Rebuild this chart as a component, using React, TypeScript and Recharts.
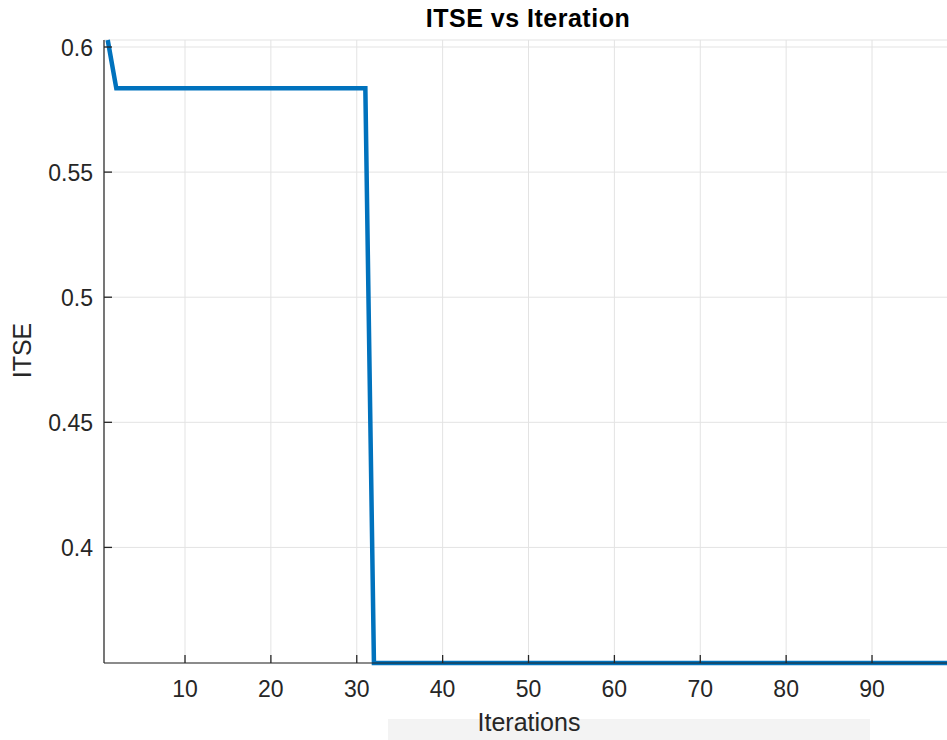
import { LineChart, Line, XAxis, YAxis, CartesianGrid } from "recharts"

// best ITSE value per iteration (iterations 1..99)
const itse = [
  0.6028, 0.5835, 0.5835, 0.5835, 0.5835, 0.5835, 0.5835, 0.5835, 0.5835, 0.5835,
  0.5835, 0.5835, 0.5835, 0.5835, 0.5835, 0.5835, 0.5835, 0.5835, 0.5835, 0.5835,
  0.5835, 0.5835, 0.5835, 0.5835, 0.5835, 0.5835, 0.5835, 0.5835, 0.5835, 0.5835,
  0.5835, 0.3538, 0.3538, 0.3538, 0.3538, 0.3538, 0.3538, 0.3538, 0.3538, 0.3538,
  0.3538, 0.3538, 0.3538, 0.3538, 0.3538, 0.3538, 0.3538, 0.3538, 0.3538, 0.3538,
  0.3538, 0.3538, 0.3538, 0.3538, 0.3538, 0.3538, 0.3538, 0.3538, 0.3538, 0.3538,
  0.3538, 0.3538, 0.3538, 0.3538, 0.3538, 0.3538, 0.3538, 0.3538, 0.3538, 0.3538,
  0.3538, 0.3538, 0.3538, 0.3538, 0.3538, 0.3538, 0.3538, 0.3538, 0.3538, 0.3538,
  0.3538, 0.3538, 0.3538, 0.3538, 0.3538, 0.3538, 0.3538, 0.3538, 0.3538, 0.3538,
  0.3538, 0.3538, 0.3538, 0.3538, 0.3538, 0.3538, 0.3538, 0.3538, 0.3538,
]

const xTicks = [10, 20, 30, 40, 50, 60, 70, 80, 90]
const yTicks = [0.4, 0.45, 0.5, 0.55, 0.6]

const data = itse.map((v, i) => ({ iteration: i + 1, itse: v }))

const AXIS = "#262626"
const FONT = '"Liberation Sans", Arial, Helvetica, sans-serif'
const TICK_LEN = 8
const X_DOMAIN = [0.567, 99.43]
const Y_DOMAIN = [0.3538, 0.6028]

function BottomTick(props: any) {
  const { x, y, payload } = props
  return (
    <g>
      <line x1={x} y1={y} x2={x} y2={y - TICK_LEN} stroke={AXIS} strokeWidth={1.3} />
      <text x={x} y={y + 34} textAnchor="middle" fontSize={23} fill={AXIS} fontFamily={FONT}>
        {payload.value}
      </text>
    </g>
  )
}

function TopTick(props: any) {
  const { x, y } = props
  return <line x1={x} y1={y} x2={x} y2={y + TICK_LEN} stroke={AXIS} strokeWidth={1.3} />
}

function LeftTick(props: any) {
  const { x, y, payload } = props
  return (
    <g>
      <line x1={x} y1={y} x2={x + TICK_LEN} y2={y} stroke={AXIS} strokeWidth={1.3} />
      <text x={x - 11} y={y + 8.5} textAnchor="end" fontSize={23} fill={AXIS} fontFamily={FONT}>
        {payload.value}
      </text>
    </g>
  )
}

function RightTick(props: any) {
  const { x, y } = props
  return <line x1={x} y1={y} x2={x - TICK_LEN} y2={y} stroke={AXIS} strokeWidth={1.3} />
}

export default function App() {
  return (
    <div style={{ position: "absolute", left: 0, top: 0, width: 947, height: 740, background: "#fff", overflow: "hidden" }}>
      <div style={{ position: "absolute", left: 388, top: 719, width: 482, height: 21, background: "#f3f3f3" }} />
      <div style={{ position: "absolute", left: 0, top: 0 }}>
        <LineChart width={954} height={740} data={data} margin={{ top: 40, right: 1, bottom: 0, left: 0 }}>
          <CartesianGrid stroke="#e3e3e3" strokeWidth={1} />
          <XAxis
            type="number"
            dataKey="iteration"
            domain={X_DOMAIN}
            ticks={xTicks}
            interval={0}
            height={77}
            axisLine={{ stroke: AXIS, strokeWidth: 1.2 }}
            tickLine={false}
            tickSize={0}
            tickMargin={0}
            tick={<BottomTick />}
          />
          <XAxis
            xAxisId="top"
            orientation="top"
            type="number"
            dataKey="iteration"
            domain={X_DOMAIN}
            ticks={xTicks}
            interval={0}
            height={0}
            axisLine={{ stroke: AXIS, strokeWidth: 1.2 }}
            tickLine={false}
            tickSize={0}
            tickMargin={0}
            tick={<TopTick />}
          />
          <YAxis
            type="number"
            domain={Y_DOMAIN}
            ticks={yTicks}
            interval={0}
            width={104}
            axisLine={{ stroke: AXIS, strokeWidth: 1.2 }}
            tickLine={false}
            tickSize={0}
            tickMargin={0}
            tick={<LeftTick />}
          />
          <YAxis
            yAxisId="right"
            orientation="right"
            type="number"
            domain={Y_DOMAIN}
            ticks={yTicks}
            interval={0}
            width={0}
            axisLine={{ stroke: AXIS, strokeWidth: 1.2 }}
            tickLine={false}
            tickSize={0}
            tickMargin={0}
            tick={<RightTick />}
          />
          <Line
            type="linear"
            dataKey="itse"
            stroke="#0072BD"
            strokeWidth={4.5}
            dot={false}
            activeDot={false}
            isAnimationActive={false}
          />
        </LineChart>
      </div>
      <svg width={947} height={740} style={{ position: "absolute", left: 0, top: 0, pointerEvents: "none" }}>
        <text x={528} y={27} textAnchor="middle" fontSize={25} fontWeight="bold" fill="#000" fontFamily={FONT} letterSpacing={0.5}>
          ITSE vs Iteration
        </text>
        <text x={529} y={731} textAnchor="middle" fontSize={25} fill={AXIS} fontFamily={FONT}>
          Iterations
        </text>
        <text x={31} y={350.5} textAnchor="middle" fontSize={25} fill={AXIS} fontFamily={FONT} transform="rotate(-90 31 350.5)">
          ITSE
        </text>
      </svg>
    </div>
  )
}
